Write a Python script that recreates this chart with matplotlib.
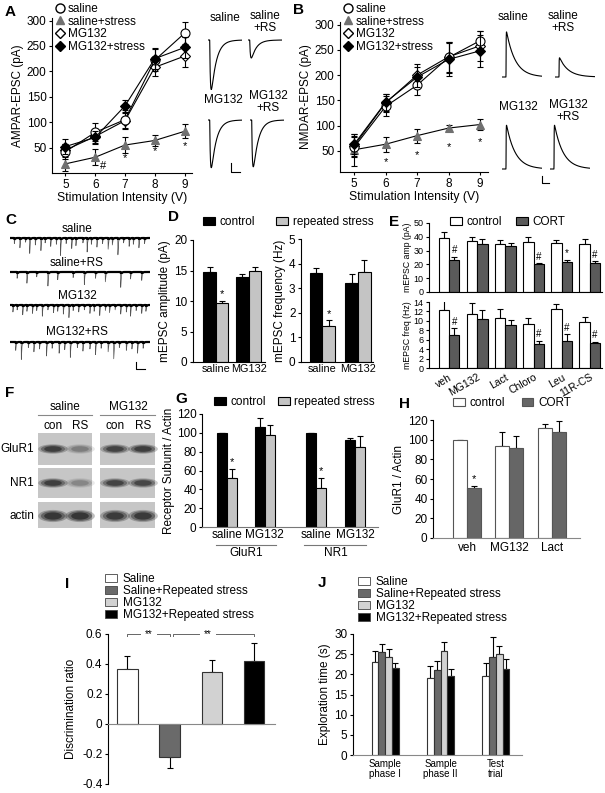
import numpy as np
import matplotlib
matplotlib.use("Agg")
import matplotlib.pyplot as plt
from matplotlib.patches import Ellipse, Rectangle, Patch
from matplotlib.lines import Line2D

plt.rcParams['font.family'] = ['Liberation Sans', 'DejaVu Sans']
plt.rcParams['font.size'] = 8
plt.rcParams['axes.linewidth'] = 0.8
plt.rcParams['xtick.major.size'] = 2.5
plt.rcParams['ytick.major.size'] = 2.5
plt.rcParams['xtick.major.width'] = 0.8
plt.rcParams['ytick.major.width'] = 0.8
plt.rcParams['xtick.major.pad'] = 1.5
plt.rcParams['ytick.major.pad'] = 1.5

# ---------------- data ----------------
stim = [5, 6, 7, 8, 9]

# A: AMPAR-EPSC (pA)
ampa_saline = [42, 80, 105, 222, 275]
ampa_saline_err = [15, 18, 18, 22, 22]
ampa_saline_rs = [18, 31, 55, 64, 82]
ampa_saline_rs_err = [14, 16, 16, 10, 14]
ampa_mg = [45, 72, 103, 208, 230]
ampa_mg_err = [12, 12, 15, 18, 22]
ampa_mg_rs = [52, 70, 132, 225, 247]
ampa_mg_rs_err = [14, 12, 12, 20, 20]
ampa_trace_amp = [275, 100, 265, 260]

# B: NMDAR-EPSC (pA)
nmda_saline = [57, 138, 180, 235, 268]
nmda_saline_err = [20, 20, 20, 30, 20]
nmda_saline_rs = [52, 63, 80, 95, 102]
nmda_saline_rs_err = [32, 15, 14, 6, 10]
nmda_mg = [60, 145, 200, 236, 258]
nmda_mg_err = [20, 18, 22, 30, 30]
nmda_mg_rs = [63, 146, 196, 231, 248]
nmda_mg_rs_err = [20, 17, 20, 32, 32]
nmda_trace_amp = [270, 115, 262, 262]

trace_names = ['saline', 'saline\n+RS', 'MG132', 'MG132\n+RS']

# C: mEPSC event times (s) and amplitudes (pA)
c_labels = ['saline', 'saline+RS', 'MG132', 'MG132+RS']
c_times = [
    [3, 7, 11, 14, 18, 22, 25, 29, 33, 36, 40, 44, 47, 52, 55, 58, 62, 66, 70, 73, 77, 81, 85, 88, 92, 96],
    [5, 12, 19, 27, 34, 45, 53, 61, 68, 79, 86, 94],
    [2, 5, 9, 12, 16, 19, 23, 27, 31, 34, 38, 42, 45, 49, 53, 57, 60, 64, 68, 71, 75, 79, 83, 86, 90, 94, 97],
    [4, 8, 13, 17, 21, 26, 30, 35, 39, 43, 48, 52, 57, 61, 65, 70, 74, 78, 83, 87, 91, 95],
]
c_amps = [
    [8, 14, 6, 22, 10, 18, 7, 12, 9, 25, 8, 15, 11, 7, 20, 9, 13, 8, 16, 10, 24, 7, 12, 9, 14, 8],
    [9, 16, 7, 20, 11, 8, 18, 9, 14, 22, 10, 12],
    [10, 7, 14, 9, 12, 8, 16, 7, 11, 9, 13, 18, 8, 10, 7, 12, 9, 15, 8, 11, 7, 13, 10, 16, 8, 12, 9],
    [12, 25, 8, 14, 10, 20, 9, 16, 11, 22, 8, 13, 10, 18, 9, 14, 24, 8, 12, 10, 16, 9],
]

# D
d_groups = ['saline', 'MG132']
amp_ctrl = [14.7, 14.0]
amp_ctrl_err = [0.8, 0.5]
amp_rs = [9.7, 15.0]
amp_rs_err = [0.3, 0.5]
freq_ctrl = [3.6, 3.2]
freq_ctrl_err = [0.22, 0.38]
freq_rs = [1.48, 3.65]
freq_rs_err = [0.22, 0.48]

# E
e_groups = ['veh', 'MG132', 'Lact', 'Chloro', 'Leu', '11R-CS']
e_amp_ctrl = [39, 37, 34.5, 36.5, 35.5, 34.5]
e_amp_ctrl_err = [4.5, 3, 3, 3.5, 2, 4]
e_amp_cort = [23.5, 35, 33.5, 20, 22, 21]
e_amp_cort_err = [2, 3.5, 2, 1, 1.5, 1.5]
e_amp_mark = ['#', '', '', '#', '*', '#']
e_freq_ctrl = [12.2, 11.5, 10.6, 9.4, 12.5, 9.8]
e_freq_ctrl_err = [2.2, 2.3, 2.0, 1.3, 1.0, 1.0]
e_freq_cort = [7.1, 10.4, 9.1, 5.0, 5.8, 5.3]
e_freq_cort_err = [1.3, 2.0, 1.1, 0.8, 1.4, 0.3]
e_freq_mark = ['#', '', '', '#', '#', '#']

# F: blot band intensities (rows x lanes: saline con, saline RS, MG132 con, MG132 RS)
blot_rows = ['GluR1', 'NR1', 'actin']
blot_intensity = [[0.85, 0.35, 0.8, 0.85],
                  [0.85, 0.3, 0.8, 0.75],
                  [0.95, 0.95, 0.9, 0.9]]

# G
g_ticks = ['saline', 'MG132', 'saline', 'MG132']
g_ctrl = [100, 106, 100, 92]
g_ctrl_err = [0, 10, 0, 2]
g_rs = [52, 98, 41, 85]
g_rs_err = [10, 10, 11, 12]

# H
h_groups = ['veh', 'MG132', 'Lact']
h_ctrl = [100, 94, 112]
h_ctrl_err = [0, 14, 4]
h_cort = [51, 92, 108]
h_cort_err = [1.5, 12, 11]

# I
i_labels = ['Saline', 'Saline+Repeated stress', 'MG132', 'MG132+Repeated stress']
i_vals = [0.37, -0.22, 0.35, 0.42]
i_errs = [0.085, 0.075, 0.075, 0.12]

# J
j_phases = ['Sample\nphase I', 'Sample\nphase II', 'Test\ntrial']
j_saline = [23.0, 19.2, 19.7]
j_saline_err = [2.7, 2.9, 3.0]
j_saline_rs = [25.5, 21.1, 24.3]
j_saline_rs_err = [2.0, 2.2, 5.0]
j_mg = [24.3, 25.8, 25.1]
j_mg_err = [2.1, 2.1, 2.0]
j_mg_rs = [21.6, 19.5, 21.2]
j_mg_rs_err = [1.2, 1.9, 2.6]

four_colors = ['white', '#6a6a6a', '#d2d2d2', 'black']
CORT = '#5a5a5a'
RS_GRAY = '#c4c4c4'

# ---------------- figure ----------------
W, H = 605, 793
fig = plt.figure(figsize=(W / 100, H / 100), dpi=100)


def axpx(l, t, r, b):
    ax = fig.add_axes([l / W, 1 - b / H, (r - l) / W, (b - t) / H])
    ax.set_facecolor('none')
    return ax


def ftext(x, y, s, **kw):
    fig.text(x / W, 1 - y / H, s, **kw)


def clean(ax):
    ax.spines['top'].set_visible(False)
    ax.spines['right'].set_visible(False)


def bars(ax, x, vals, errs, width, color, ec='black'):
    vals = np.asarray(vals, float)
    errs = np.asarray(errs, float)
    ax.bar(x, vals, width, color=color, edgecolor=ec, linewidth=0.8, zorder=2)
    lo = np.where(vals < 0, errs, 0)
    hi = np.where(vals >= 0, errs, 0)
    ax.errorbar(x, vals, yerr=[lo, hi], fmt='none', ecolor='black', elinewidth=0.8,
                capsize=2, capthick=0.8, zorder=1)


def psc(t, onset, tr, td):
    s = np.clip(t - onset, 0, None)
    y = np.exp(-s / td) - np.exp(-s / tr)
    return y / y.max()


ov = fig.add_axes([0, 0, 1, 1])
ov.set_xlim(0, W)
ov.set_ylim(H, 0)
ov.axis('off')

# panel letters
for lab, x, y in [('A', 10, 12), ('B', 298, 10), ('C', 11, 220), ('D', 173, 217),
                  ('E', 394, 222), ('F', 10, 393), ('G', 181, 399), ('H', 405, 404),
                  ('I', 67, 584), ('J', 322, 583)]:
    ftext(x, y, lab, fontsize=11, fontweight='bold', ha='center', va='center')

# ---------------- A & B ----------------
def line_panel(box, series, errs, ylim, ylabel, stars, leg_xy):
    ax = axpx(*box)
    styles = [dict(marker='^', mfc='#707070', mec='#707070', ms=6, z=3),
              dict(marker='D', mfc='white', mec='black', ms=5, z=4),
              dict(marker='o', mfc='white', mec='black', ms=6.5, z=5),
              dict(marker='D', mfc='black', mec='black', ms=5, z=6)]
    order = [1, 2, 0, 3]
    for st, k in zip(styles, order):
        ax.errorbar(stim, series[k], yerr=errs[k], color='black', lw=0.8, elinewidth=0.8,
                    capsize=2, capthick=0.8, marker=st['marker'], mfc=st['mfc'],
                    mec=st['mec'], ms=st['ms'], mew=0.8, zorder=st['z'])
    ax.set_xlim(4.55, 9.25)
    ax.set_ylim(*ylim)
    ax.set_xticks(stim)
    ax.set_yticks([50, 100, 150, 200, 250, 300])
    ax.tick_params(labelsize=8.5)
    ax.set_xlabel('Stimulation Intensity (V)', fontsize=8.8, labelpad=1)
    ax.set_ylabel(ylabel, fontsize=8.5, labelpad=2)
    clean(ax)
    for sx, sy, s in stars:
        ax.text(sx, sy, s, ha='center', va='center', fontsize=8)
    handles = [Line2D([], [], ls='none', marker='o', mfc='white', mec='black', ms=6.5),
               Line2D([], [], ls='none', marker='^', mfc='#707070', mec='#707070', ms=6),
               Line2D([], [], ls='none', marker='D', mfc='white', mec='black', ms=5),
               Line2D([], [], ls='none', marker='D', mfc='black', mec='black', ms=5)]
    fig.legend(handles, ['saline', 'saline+stress', 'MG132', 'MG132+stress'],
               loc='upper left', bbox_to_anchor=(leg_xy[0] / W, 1 - leg_xy[1] / H),
               frameon=False, fontsize=8.5, handlelength=0.7, handletextpad=0.3,
               labelspacing=0.05, borderpad=0, borderaxespad=0)
    return ax


line_panel((52, 18, 192, 173),
           [ampa_saline, ampa_saline_rs, ampa_mg, ampa_mg_rs],
           [ampa_saline_err, ampa_saline_rs_err, ampa_mg_err, ampa_mg_rs_err],
           (0, 305), 'AMPAR-EPSC (pA)',
           [(7, 29, '*'), (8, 43, '*'), (9, 52, '*'), (6.25, 13, '#')], (56, 3))

line_panel((340, 22, 488, 172),
           [nmda_saline, nmda_saline_rs, nmda_mg, nmda_mg_rs],
           [nmda_saline_err, nmda_saline_rs_err, nmda_mg_err, nmda_mg_rs_err],
           (8, 305), 'NMDAR-EPSC (pA)',
           [(6, 27, '*'), (7, 41, '*'), (8, 57, '*'), (9, 67, '*')], (344, 3))

# example traces A (inward AMPA currents, baseline on top)
t_a = np.linspace(0, 30, 300)
k = 0.18  # px per pA
a_boxes = [(208, 40), (248, 40), (208, 120), (250, 120)]
for (x0, base), amp in zip(a_boxes, ampa_trace_amp):
    ax = axpx(x0, base - 10 * k, x0 + 34, base + 300 * k)
    ax.plot(t_a, -amp * psc(t_a, 1.5, 0.6, 4.5), color='black', lw=0.8)
    ax.set_xlim(0, 30)
    ax.set_ylim(-300, 10)
    ax.axis('off')
for (x, y), name in zip([(225, 18), (265, 22), (223, 100), (268, 102)], trace_names):
    ftext(x, y, name, fontsize=8.5, ha='center', va='center', linespacing=1.0)
ov.plot([231, 231, 240], [163, 172, 172], color='black', lw=0.8)

# example traces B (NMDA currents, shown upward)
t_b = np.linspace(0, 50, 400)
kb = 0.167
b_boxes = [(502, 77), (555, 77), (502, 169), (550, 169)]
for (x0, base), amp in zip(b_boxes, nmda_trace_amp):
    ax = axpx(x0, base - 300 * kb, x0 + 40, base + 10 * kb)
    ax.plot(t_b, amp * psc(t_b, 5, 0.15, 11), color='black', lw=0.8)
    ax.set_xlim(0, 50)
    ax.set_ylim(-10, 300)
    ax.axis('off')
for (x, y), name in zip([(513, 17), (563, 22), (518, 107), (568, 111)], trace_names):
    ftext(x, y, name, fontsize=8.5, ha='center', va='center', linespacing=1.0)
ov.plot([542, 542, 549], [176, 183, 183], color='black', lw=0.8)

# ---------------- C ----------------
axC = axpx(10, 225, 150, 370)
t_c = np.linspace(0, 100, 4000)
offsets = [13, 47, 80, 117]
for off, times, amps in zip(offsets, c_times, c_amps):
    tr = np.zeros_like(t_c)
    for tt, aa in zip(times, amps):
        tr += aa * psc(t_c, tt, 0.03, 0.35)
    y = off + 0.7 * tr
    axC.plot(t_c, y, color='#555555', lw=0.5)
    axC.plot(t_c, np.minimum(y, off + 1.0), color='black', lw=1.6)
axC.set_xlim(0, 100)
axC.set_ylim(145, 0)
axC.axis('off')
for lab, y in zip(c_labels, [229, 263, 296, 332]):
    ftext(77, y, lab, fontsize=8.5, ha='center', va='center')
ov.plot([136, 136, 145], [362, 369, 369], color='black', lw=0.8)

# ---------------- D ----------------
axD1 = axpx(193, 240, 265, 362)
xd = np.arange(len(d_groups))
w = 0.38
bars(axD1, xd - w / 2, amp_ctrl, amp_ctrl_err, w, 'black')
bars(axD1, xd + w / 2, amp_rs, amp_rs_err, w, RS_GRAY)
axD1.text(xd[0] + w / 2, amp_rs[0] + amp_rs_err[0] + 0.3, '*', ha='center', va='bottom', fontsize=8)
axD1.set_xlim(-0.7, 1.5)
axD1.set_ylim(0, 20)
axD1.set_yticks([0, 5, 10, 15, 20])
axD1.set_xticks(xd)
axD1.set_xticklabels(d_groups, fontsize=7.8)
axD1.tick_params(axis='x', length=0)
axD1.tick_params(axis='y', labelsize=8.5)
axD1.set_ylabel('mEPSC amplitude (pA)', fontsize=8.5, labelpad=2)
clean(axD1)

axD2 = axpx(301, 239, 373, 362)
wd = 0.36
bars(axD2, xd - wd / 2, freq_ctrl, freq_ctrl_err, wd, 'black')
bars(axD2, xd + wd / 2, freq_rs, freq_rs_err, wd, RS_GRAY)
axD2.text(xd[0] + wd / 2, freq_rs[0] + freq_rs_err[0] + 0.05, '*', ha='center', va='bottom', fontsize=8)
axD2.set_xlim(-0.6, 1.42)
axD2.set_ylim(0, 5)
axD2.set_yticks([0, 1, 2, 3, 4, 5])
axD2.set_xticks(xd)
axD2.set_xticklabels(d_groups, fontsize=7.8)
axD2.tick_params(axis='x', length=0)
axD2.tick_params(axis='y', labelsize=8.5)
axD2.set_ylabel('mEPSC frequency (Hz)', fontsize=8.5, labelpad=2)
clean(axD2)

fig.legend([Patch(fc='black', ec='black', lw=0.8), Patch(fc=RS_GRAY, ec='black', lw=0.8)],
           ['control', 'repeated stress'], ncol=2, loc='upper left',
           bbox_to_anchor=(203 / W, 1 - 216 / H), frameon=False, fontsize=8.5,
           handlelength=1.0, handleheight=0.6, handletextpad=0.4, columnspacing=1.8,
           borderpad=0, borderaxespad=0)

# ---------------- E ----------------
xe = np.arange(len(e_groups))
we = 0.37
axE1 = axpx(429, 223, 602, 292)
bars(axE1, xe - we / 2, e_amp_ctrl, e_amp_ctrl_err, we, 'white')
bars(axE1, xe + we / 2, e_amp_cort, e_amp_cort_err, we, CORT)
for i, m in enumerate(e_amp_mark):
    if m:
        axE1.text(xe[i] + we / 2, e_amp_cort[i] + e_amp_cort_err[i] + 1, m,
                  ha='center', va='bottom', fontsize=7)
axE1.set_xlim(-0.71, 5.43)
axE1.set_ylim(0, 50)
axE1.set_yticks([0, 10, 20, 30, 40, 50])
axE1.set_xticks([])
axE1.tick_params(labelsize=6.5)
axE1.set_ylabel('mEPSC amp (pA)', fontsize=6.3, labelpad=1)
clean(axE1)

axE2 = axpx(429, 302, 602, 368)
bars(axE2, xe - we / 2, e_freq_ctrl, e_freq_ctrl_err, we, 'white')
bars(axE2, xe + we / 2, e_freq_cort, e_freq_cort_err, we, CORT)
for i, m in enumerate(e_freq_mark):
    if m:
        axE2.text(xe[i] + we / 2, e_freq_cort[i] + e_freq_cort_err[i] + 0.3, m,
                  ha='center', va='bottom', fontsize=7)
axE2.set_xlim(-0.71, 5.43)
axE2.set_ylim(0, 14)
axE2.set_yticks(range(0, 15, 2))
axE2.set_xticks(xe)
axE2.set_xticklabels(e_groups, rotation=30, ha='right', rotation_mode='anchor', fontsize=7.5)
axE2.tick_params(axis='x', length=0, pad=3)
axE2.tick_params(axis='y', labelsize=6.5)
axE2.set_ylabel('mEPSC freq (Hz)', fontsize=6.3, labelpad=1)
clean(axE2)

fig.legend([Patch(fc='white', ec='black', lw=0.8), Patch(fc=CORT, ec='black', lw=0.8)],
           ['control', 'CORT'], ncol=2, loc='upper left',
           bbox_to_anchor=(450 / W, 1 - 216 / H), frameon=False, fontsize=8.5,
           handlelength=1.0, handleheight=0.6, handletextpad=0.4, columnspacing=1.2,
           borderpad=0, borderaxespad=0)

# ---------------- F (blots) ----------------
lane_x = [53, 80, 115, 143]
row_y = [449, 483, 516]
row_box = [(433, 465), (468, 498), (502, 528)]
for (x0, x1) in [(38, 92), (100, 155)]:
    for (y0, y1) in row_box:
        ov.add_patch(Rectangle((x0, y0), x1 - x0, y1 - y0, fc='#c6c6c6', ec='none'))
for r, yb in enumerate(row_y):
    hgt = 9 if r == 2 else 7
    for lx, inten in zip(lane_x, blot_intensity[r]):
        for sc, al in [(1.35, 0.3), (1.1, 0.45), (0.8, 0.7)]:
            ov.add_patch(Ellipse((lx, yb), 22 * sc, hgt * sc, fc='#202020', ec='none',
                                 alpha=al * inten))
    ftext(34, yb, blot_rows[r], fontsize=8.5, ha='right', va='center')
ftext(65, 407, 'saline', fontsize=8.5, ha='center', va='center')
ftext(128, 407, 'MG132', fontsize=8.5, ha='center', va='center')
ov.plot([38, 92], [415, 415], color='#888888', lw=0.8)
ov.plot([100, 155], [415, 415], color='#888888', lw=0.8)
for x, s in zip(lane_x, ['con', 'RS', 'con', 'RS']):
    ftext(x, 426, s, fontsize=8.5, ha='center', va='center')

# ---------------- G ----------------
xg = np.array([0, 1, 2.36, 3.41])
wg = 0.27
axG = axpx(202, 414, 378, 527)
bars(axG, xg - wg / 2, g_ctrl, g_ctrl_err, wg, 'black')
bars(axG, xg + wg / 2, g_rs, g_rs_err, wg, RS_GRAY)
for i in [0, 2]:
    axG.text(xg[i] + wg / 2, g_rs[i] + g_rs_err[i] + 2, '*', ha='center', va='bottom', fontsize=8)
axG.set_xlim(-0.67, 4.02)
axG.set_ylim(0, 120)
axG.set_yticks(range(0, 121, 20))
axG.set_xticks(xg)
axG.set_xticklabels(g_ticks)
axG.tick_params(axis='x', length=0)
axG.tick_params(labelsize=8.5)
axG.spines['bottom'].set_color('#777777')
axG.set_ylabel('Receptor Subunit / Actin', fontsize=8.5, labelpad=1)
clean(axG)
tG = axG.get_xaxis_transform()
for (a, b), name in zip([(0, 1), (2, 3)], ['GluR1', 'NR1']):
    axG.plot([xg[a] - 0.3, xg[b] + 0.3], [-0.16, -0.16], transform=tG, clip_on=False,
             color='#777777', lw=0.8)
    axG.text((xg[a] + xg[b]) / 2, -0.23, name, transform=tG, ha='center', va='center', fontsize=8.5)

fig.legend([Patch(fc='black', ec='black', lw=0.8), Patch(fc=RS_GRAY, ec='black', lw=0.8)],
           ['control', 'repeated stress'], ncol=2, loc='upper left',
           bbox_to_anchor=(214 / W, 1 - 396 / H), frameon=False, fontsize=8.5,
           handlelength=1.0, handleheight=0.6, handletextpad=0.4, columnspacing=1.0,
           borderpad=0, borderaxespad=0)

# ---------------- H ----------------
xh = np.arange(len(h_groups))
wh = 0.33
axH = axpx(433, 420, 580, 538)
bars(axH, xh - wh / 2, h_ctrl, h_ctrl_err, wh, 'white', ec='#555555')
bars(axH, xh + wh / 2, h_cort, h_cort_err, wh, '#666666', ec='#555555')
axH.text(xh[0] + wh / 2, h_cort[0] + h_cort_err[0] + 2, '*', ha='center', va='bottom', fontsize=8)
axH.set_xlim(-0.8, 2.66)
axH.set_ylim(0, 120)
axH.set_yticks(range(0, 121, 20))
axH.set_xticks(xh)
axH.set_xticklabels(h_groups)
axH.tick_params(axis='x', length=0, pad=3)
axH.tick_params(labelsize=8.5)
axH.spines['bottom'].set_color('#888888')
axH.set_ylabel('GluR1 / Actin', fontsize=8.5, labelpad=2)
clean(axH)

fig.legend([Patch(fc='white', ec='#555555', lw=0.8), Patch(fc='#666666', ec='#555555', lw=0.8)],
           ['control', 'CORT'], ncol=2, loc='upper left',
           bbox_to_anchor=(453 / W, 1 - 397 / H), frameon=False, fontsize=8.5,
           handlelength=1.0, handleheight=0.6, handletextpad=0.4, columnspacing=1.4,
           borderpad=0, borderaxespad=0)

# ---------------- I ----------------
xi = np.arange(len(i_vals))
axI = axpx(108, 634, 275, 784)
bars(axI, xi, i_vals, i_errs, 0.48, four_colors, ec='#333333')
axI.set_xlim(-0.46, 3.5)
axI.set_ylim(-0.4, 0.6)
axI.set_yticks([-0.4, -0.2, 0, 0.2, 0.4, 0.6])
axI.set_yticklabels(['-0.4', '-0.2', '0', '0.2', '0.4', '0.6'])
axI.spines['bottom'].set_position(('data', 0))
axI.spines['bottom'].set_color('#888888')
axI.set_xticks([])
axI.tick_params(labelsize=8.5)
axI.set_ylabel('Discrimination ratio', fontsize=8.5, labelpad=4)
clean(axI)
br = '#666666'
for (a, b, m) in [(0, 1.0, 0.5), (1.08, 3.0, 1.9)]:
    axI.plot([a, a, m - 0.2], [0.585, 0.6, 0.6], color=br, lw=0.7, clip_on=False)
    axI.plot([m + 0.2, b, b], [0.6, 0.6, 0.585], color=br, lw=0.7, clip_on=False)
    axI.text(m, 0.6, '**', ha='center', va='center', fontsize=7)

leg_handles = [Patch(fc=c, ec='#444444', lw=0.6) for c in four_colors]
fig.legend(leg_handles, i_labels, loc='upper left', bbox_to_anchor=(105 / W, 1 - 573 / H),
           frameon=False, fontsize=8.5, handlelength=1.0, handleheight=0.6,
           handletextpad=0.5, labelspacing=0.0, borderpad=0, borderaxespad=0)

# ---------------- J ----------------
xj = np.arange(len(j_phases))
wj = 0.122
axJ = axpx(353, 634, 522, 755)
j_series = [(j_saline, j_saline_err), (j_saline_rs, j_saline_rs_err),
            (j_mg, j_mg_err), (j_mg_rs, j_mg_rs_err)]
for n, ((v, e), c) in enumerate(zip(j_series, four_colors)):
    bars(axJ, xj + (n - 1.5) * wj, v, e, wj, c, ec='#333333')
axJ.set_xlim(-0.58, 2.47)
axJ.set_ylim(0, 30)
axJ.set_yticks(range(0, 31, 5))
axJ.set_xticks(xj)
axJ.set_xticklabels(j_phases, fontsize=7, linespacing=1.0)
axJ.tick_params(axis='x', length=0, pad=3)
axJ.tick_params(axis='y', labelsize=8.5)
axJ.spines['bottom'].set_color('#888888')
axJ.set_ylabel('Exploration time (s)', fontsize=8.5, labelpad=2)
clean(axJ)

fig.legend([Patch(fc=c, ec='#444444', lw=0.6) for c in four_colors], i_labels,
           loc='upper left', bbox_to_anchor=(358 / W, 1 - 576 / H),
           frameon=False, fontsize=8.5, handlelength=1.0, handleheight=0.6,
           handletextpad=0.5, labelspacing=0.0, borderpad=0, borderaxespad=0)

fig.savefig('out.png', dpi=100)
